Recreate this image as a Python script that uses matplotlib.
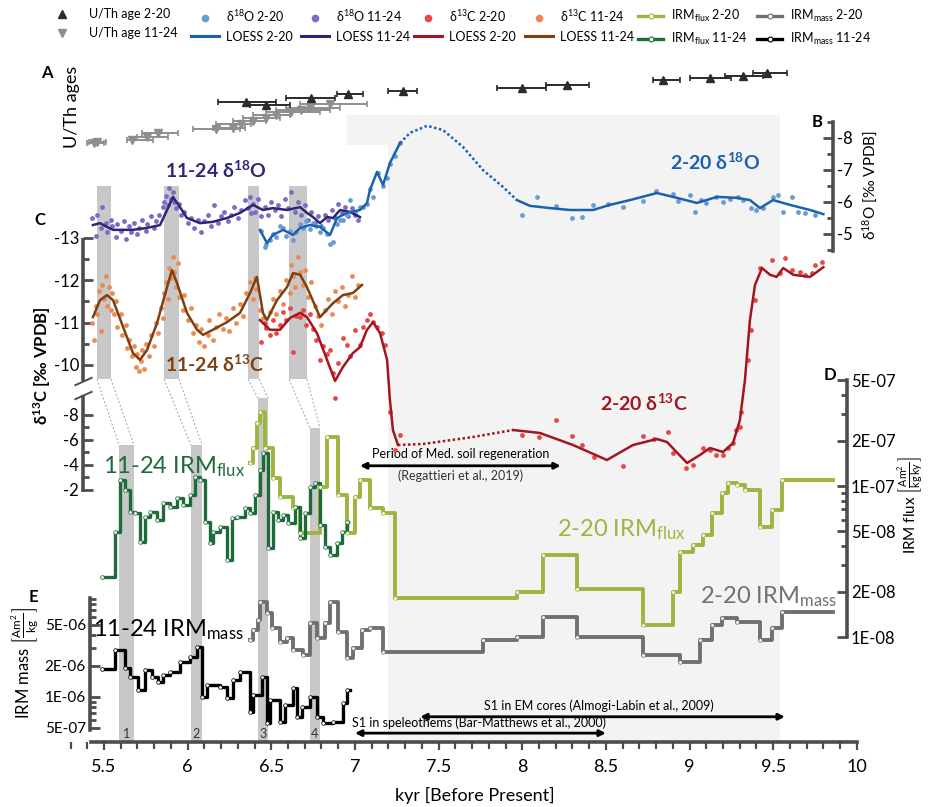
import numpy as np
import matplotlib
matplotlib.use("Agg")
import matplotlib.pyplot as plt
from matplotlib.lines import Line2D
from matplotlib.ticker import FixedLocator, FixedFormatter, MultipleLocator, NullFormatter, FuncFormatter

plt.rcParams["font.family"] = ["Lato", "DejaVu Sans"]
plt.rcParams["mathtext.default"] = "regular"

# ---------------- data (kyr BP) ----------------
# U/Th ages: age, 2-sigma range, stacking row
uth_220_age = [6.35, 6.47, 6.74, 6.96, 7.29, 8.00, 8.27, 8.84, 9.12, 9.32, 9.46]
uth_220_lo = [6.18, 6.37, 6.59, 6.89, 7.20, 7.85, 8.14, 8.78, 9.00, 9.21, 9.38]
uth_220_hi = [6.53, 6.61, 6.88, 7.05, 7.37, 8.14, 8.40, 8.94, 9.25, 9.44, 9.58]
uth_220_row = [4.8, 4.5, 5.2, 5.6, 5.9, 6.2, 6.5, 7.0, 7.2, 7.4, 7.7]

uth_1124_age = [5.44, 5.46, 5.67, 5.76, 5.82, 6.17, 6.27, 6.32, 6.39, 6.47, 6.53, 6.62, 6.68, 6.73, 6.85]
uth_1124_lo = [5.40, 5.41, 5.64, 5.70, 5.73, 6.03, 6.15, 6.17, 6.27, 6.33, 6.39, 6.47, 6.53, 6.59, 6.67]
uth_1124_hi = [5.50, 5.51, 5.79, 5.88, 5.94, 6.31, 6.34, 6.38, 6.47, 6.55, 6.61, 6.79, 6.85, 6.91, 7.07]
uth_1124_row = [0.7, 0.8, 1.0, 1.3, 1.7, 2.1, 2.2, 2.6, 2.9, 3.2, 3.5, 3.8, 4.0, 4.2, 4.6]

# d18O 11-24
o1124_x = [5.43, 5.45, 5.46, 5.48, 5.49, 5.51, 5.52, 5.54, 5.55, 5.57, 5.58, 5.60, 5.62, 5.63, 5.65,
           5.66, 5.68, 5.70, 5.71, 5.73, 5.75, 5.76, 5.78, 5.80, 5.81, 5.83, 5.85, 5.86, 5.87, 5.88,
           5.89, 5.90, 5.91, 5.92, 5.93, 5.95, 5.96, 5.98, 6.00, 6.02, 6.04, 6.06, 6.08, 6.10, 6.12,
           6.14, 6.16, 6.18, 6.20, 6.22, 6.24, 6.26, 6.28, 6.30, 6.32, 6.34, 6.36, 6.37, 6.38, 6.39,
           6.40, 6.42, 6.44, 6.46, 6.48, 6.50, 6.52, 6.54, 6.56, 6.58, 6.60, 6.62, 6.64, 6.66, 6.68,
           6.70, 6.72, 6.74, 6.76, 6.78, 6.80, 6.82, 6.84, 6.86, 6.88, 6.90, 6.92, 6.94, 6.96, 6.98,
           7.00, 7.02]
o1124_y = [-5.50, -4.95, -5.60, -5.20, -5.85, -5.35, -5.05, -5.45, -5.25, -4.90, -5.30, -5.10, -5.40, -4.85, -5.25,
           -5.05, -5.35, -5.00, -5.20, -5.45, -5.10, -5.30, -5.55, -5.20, -5.40, -5.60, -5.85, -6.00, -6.20, -5.90,
           -6.45, -6.10, -6.30, -6.00, -5.80, -5.95, -5.60, -5.70, -5.35, -5.50, -5.20, -5.45, -5.05, -5.40, -5.60,
           -5.25, -5.90, -5.35, -5.55, -5.70, -5.40, -5.60, -5.85, -5.50, -5.75, -6.05, -5.80, -6.15, -5.65, -5.95,
           -5.70, -6.10, -5.55, -5.85, -5.60, -6.00, -5.75, -5.90, -5.55, -6.10, -5.80, -6.30, -5.70, -6.00, -5.60,
           -5.90, -5.45, -5.70, -5.35, -5.55, -5.25, -5.60, -5.45, -5.75, -5.50, -5.95, -5.65, -5.85, -5.55, -5.80,
           -5.60, -5.45]
o1124_loess_x = [5.434, 5.476, 5.518, 5.554, 5.614, 5.673, 5.757, 5.835, 5.877, 5.912, 5.954, 5.996, 6.074,
                 6.151, 6.235, 6.313, 6.391, 6.450, 6.510, 6.594, 6.672, 6.713, 6.749, 6.791, 6.833, 6.869,
                 6.911, 6.970, 7.030]
o1124_loess_y = [-5.28, -5.34, -5.22, -5.13, -5.13, -5.13, -5.19, -5.28, -5.75, -6.16, -5.84, -5.50, -5.34,
                 -5.38, -5.50, -5.66, -5.91, -5.75, -5.81, -5.75, -5.84, -5.66, -5.53, -5.34, -5.53, -5.50,
                 -5.75, -5.69, -5.53]

# d18O 2-20
o220_x = [6.44, 6.46, 6.47, 6.49, 6.51, 6.53, 6.55, 6.57, 6.59, 6.61, 6.63, 6.65, 6.67, 6.69, 6.71,
          6.73, 6.75, 6.77, 6.79, 6.81, 6.83, 6.85, 6.87, 6.89, 6.91, 6.93, 6.95, 6.97, 7.00, 7.03,
          7.05, 7.07, 7.09, 7.11, 7.14, 7.17, 7.19, 7.21, 7.24, 7.27,
          8.00, 8.09, 8.20, 8.30, 8.36, 8.42, 8.51, 8.60, 8.72, 8.80, 8.90, 8.93, 9.00, 9.03, 9.07,
          9.10, 9.16, 9.20, 9.24, 9.29, 9.32, 9.37, 9.40, 9.44, 9.50, 9.53, 9.56, 9.61, 9.65, 9.69, 9.75]
o220_y = [-5.10, -4.60, -4.70, -4.80, -5.00, -4.90, -5.25, -5.20, -4.95, -5.10, -4.80, -5.05, -5.30, -5.20, -5.40,
          -5.15, -5.35, -5.25, -5.05, -5.20, -5.00, -4.70, -4.75, -5.30, -5.45, -5.45, -5.60, -6.05, -5.70, -5.85,
          -5.85, -5.95, -6.40, -6.15, -6.90, -6.50, -6.75, -7.20, -7.45, -7.85,
          -5.59, -6.16, -5.88, -5.50, -5.53, -5.91, -5.94, -5.84, -6.03, -6.34, -6.25, -6.03, -6.22, -5.69, -6.06,
          -5.97, -6.16, -6.00, -6.09, -6.16, -6.06, -5.81, -5.75, -5.81, -6.16, -6.22, -5.69, -6.16, -5.69, -5.66, -5.59]
o220_loess_x = [6.432, 6.474, 6.510, 6.570, 6.630, 6.672, 6.731, 6.791, 6.851, 6.893, 6.952, 7.030, 7.072,
                7.090, 7.132, 7.168, 7.209, 7.269, 7.329, 7.431, 7.526, 7.646, 7.765, 7.885, 7.968, 8.046,
                8.166, 8.285, 8.423, 8.524, 8.644, 8.805, 8.901, 9.044, 9.164, 9.283, 9.361, 9.421, 9.499,
                9.600, 9.720, 9.800]
o220_loess_y = [-5.13, -4.72, -4.97, -5.13, -4.97, -5.19, -5.28, -5.22, -4.97, -5.50, -5.66, -5.75, -5.97,
                -6.38, -6.94, -6.53, -7.22, -7.84, -8.16, -8.38, -8.25, -7.72, -7.00, -6.47, -6.06, -5.88,
                -5.81, -5.75, -5.75, -5.91, -6.06, -6.28, -6.16, -5.97, -6.16, -6.13, -6.06, -5.81, -6.06,
                -5.91, -5.75, -5.62]

# d13C 11-24
c1124_x = [5.43, 5.44, 5.45, 5.46, 5.47, 5.48, 5.49, 5.50, 5.51, 5.52, 5.53, 5.54, 5.55, 5.56, 5.57,
           5.58, 5.60, 5.61, 5.63, 5.64, 5.65, 5.67, 5.68, 5.69, 5.70, 5.71, 5.72, 5.73, 5.74, 5.75,
           5.77, 5.78, 5.80, 5.81, 5.82, 5.84, 5.85, 5.86, 5.87, 5.88, 5.89, 5.90, 5.91, 5.92, 5.93,
           5.94, 5.95, 5.97, 5.98, 6.00, 6.02, 6.03, 6.05, 6.07, 6.08, 6.10, 6.12, 6.13, 6.15, 6.17,
           6.19, 6.21, 6.23, 6.25, 6.27, 6.29, 6.31, 6.33, 6.35, 6.37, 6.39, 6.40, 6.41, 6.43, 6.45,
           6.47, 6.49, 6.51, 6.53, 6.55, 6.57, 6.59, 6.61, 6.62, 6.63, 6.64, 6.66, 6.67, 6.69, 6.70,
           6.72, 6.74, 6.76, 6.78, 6.80, 6.82, 6.84, 6.86, 6.88, 6.90, 6.92, 6.94, 6.96, 6.98, 7.00, 7.02]
c1124_y = [-11.00, -10.60, -11.40, -11.20, -11.75, -10.80, -11.90, -11.55, -12.10, -11.40, -11.85, -11.30, -11.70, -11.20, -11.50,
           -10.90, -11.20, -10.70, -10.95, -10.40, -10.60, -10.20, -10.45, -9.95, -10.25, -9.85, -10.10, -10.35, -9.90, -10.50,
           -10.20, -10.70, -10.45, -11.00, -10.75, -11.35, -11.10, -11.70, -11.95, -11.55, -12.30, -12.05, -12.55, -12.20, -11.85,
           -12.40, -11.60, -11.30, -11.65, -11.05, -11.35, -10.75, -10.95, -10.55, -10.85, -10.45, -10.70, -11.05, -10.60, -10.90,
           -11.20, -10.85, -11.10, -10.80, -11.35, -11.00, -11.45, -11.15, -11.70, -11.95, -11.55, -12.05, -11.80, -11.30, -11.10,
           -10.90, -11.25, -11.55, -11.20, -11.75, -11.45, -12.00, -11.70, -12.35, -12.10, -11.85, -12.55, -12.20, -11.90, -12.25,
           -11.60, -11.95, -11.40, -11.15, -10.95, -11.30, -11.55, -11.20, -11.75, -11.50, -11.85, -11.40, -11.65, -12.10, -11.60, -11.90]
c1124_loess_x = [5.434, 5.476, 5.518, 5.554, 5.614, 5.673, 5.715, 5.757, 5.817, 5.877, 5.906, 5.936, 5.996,
                 6.056, 6.092, 6.151, 6.235, 6.313, 6.373, 6.414, 6.450, 6.474, 6.534, 6.594, 6.630, 6.672,
                 6.713, 6.791, 6.869, 6.928, 6.988, 7.042]
c1124_loess_y = [-11.13, -11.53, -11.65, -11.53, -10.90, -10.28, -10.12, -10.35, -10.99, -11.84, -12.24, -11.94, -11.23,
                 -10.83, -10.71, -10.83, -11.01, -11.23, -11.70, -12.08, -11.23, -11.06, -11.53, -11.84, -12.17, -12.13,
                 -11.84, -11.13, -11.46, -11.65, -11.70, -11.89]

# d13C 2-20
c220_x = [6.44, 6.46, 6.47, 6.49, 6.51, 6.53, 6.55, 6.57, 6.59, 6.61, 6.63, 6.65, 6.67, 6.69, 6.71,
          6.73, 6.75, 6.77, 6.79, 6.81, 6.83, 6.85, 6.87, 6.88, 6.90, 6.93, 6.95, 6.97, 7.00, 7.03,
          7.05, 7.07, 7.09, 7.11, 7.13, 7.16, 7.18, 7.21, 7.24, 7.27,
          8.00, 8.10, 8.20, 8.30, 8.36, 8.43, 8.60, 8.72, 8.79, 8.87, 8.90, 8.98, 9.02, 9.08, 9.12,
          9.16, 9.20, 9.23, 9.26, 9.28, 9.30, 9.31, 9.35, 9.37, 9.39, 9.42, 9.49, 9.54, 9.57, 9.61,
          9.66, 9.69, 9.73, 9.75, 9.79]
c220_y = [-10.54, -11.00, -10.87, -10.70, -11.05, -10.75, -10.95, -11.25, -11.05, -11.35, -10.30, -11.15, -11.13, -11.30, -10.95,
          -11.20, -10.85, -10.60, -10.12, -10.45, -10.25, -10.35, -9.81, -9.36, -10.05, -10.64, -10.47, -10.20, -10.83, -10.47,
          -10.90, -11.06, -11.20, -11.01, -10.90, -10.75, -10.47, -8.24, -5.20, -6.40,
          -6.40, -6.24, -7.60, -6.32, -5.60, -4.64, -3.92, -6.32, -6.08, -6.64, -4.96, -3.76, -4.00, -5.36, -5.20,
          -4.80, -4.80, -5.36, -5.76, -6.80, -7.04, -8.24, -10.12, -10.83, -11.53, -12.29, -12.48, -12.17, -12.53, -12.24,
          -12.20, -12.13, -12.17, -12.36, -12.43]
c220_loess_x = [6.432, 6.492, 6.552, 6.612, 6.672, 6.713, 6.773, 6.833, 6.881, 6.928, 6.988, 7.030, 7.072,
                7.108, 7.150, 7.192, 7.209, 7.227, 7.257, 7.407, 7.706, 7.945, 8.106, 8.303, 8.506, 8.662,
                8.805, 8.865, 8.985, 9.062, 9.122, 9.200, 9.260, 9.301, 9.331, 9.361, 9.391, 9.433, 9.481,
                9.520, 9.560, 9.620, 9.720, 9.800]
c220_loess_y = [-11.06, -10.83, -10.83, -11.11, -11.23, -11.13, -10.75, -10.12, -9.62, -9.95, -10.28, -10.42, -10.83,
                -11.01, -10.75, -10.12, -9.20, -6.80, -5.60, -5.68, -6.24, -6.80, -6.56, -5.60, -4.40, -5.60,
                -6.08, -5.84, -4.16, -4.80, -5.36, -5.04, -5.76, -7.60, -9.64, -11.06, -11.89, -12.29, -12.13,
                -12.08, -12.29, -12.13, -12.08, -12.31]

# IRM flux (Am2 kg-1 ky-1), step start and value
flux_1124_x = [5.488, 5.566, 5.596, 5.626, 5.655, 5.685, 5.715, 5.745, 5.775, 5.817, 5.853, 5.894, 5.936, 5.972,
               6.014, 6.044, 6.074, 6.104, 6.134, 6.152, 6.193, 6.235, 6.265, 6.295, 6.343, 6.373, 6.403, 6.432,
               6.450, 6.480, 6.510, 6.540, 6.570, 6.600, 6.642, 6.672, 6.701, 6.731, 6.761, 6.791, 6.821, 6.851,
               6.893, 6.923, 6.952]
flux_1124_v = [2.49e-8, 4.95e-8, 1.10e-7, 9.4e-8, 6.73e-8, 6.62e-8, 4.26e-8, 6.24e-8, 6.73e-8, 5.96e-8, 7.71e-8, 7.26e-8,
               8.33e-8, 7.48e-8, 8.71e-8, 1.15e-7, 1.10e-7, 5.78e-8, 4.2e-8, 4.95e-8, 5.34e-8, 3.24e-8, 6.14e-8, 6.24e-8,
               7.15e-8, 6.62e-8, 8.71e-8, 1.28e-7, 1.66e-7, 3.88e-8, 6.73e-8, 5.96e-8, 6.43e-8, 5.69e-8, 7.26e-8, 4.53e-8,
               6.62e-8, 9.85e-8, 1.05e-7, 5.52e-8, 3.94e-8, 3.49e-8, 4.2e-8, 4.95e-8, 5.78e-8]
flux_1124_end = 6.958
flux_220_x = [6.373, 6.391, 6.415, 6.432, 6.462, 6.510, 6.552, 6.630, 6.672, 6.791, 6.833, 6.899, 6.952, 7.000,
              7.030, 7.090, 7.168, 7.239, 7.968, 8.124, 8.327, 8.722, 8.901, 8.943, 9.020, 9.080, 9.134, 9.194,
              9.229, 9.283, 9.331, 9.421, 9.493, 9.553]
flux_220_v = [1.42e-7, 1.79e-7, 2.61e-7, 3.09e-7, 1.79e-7, 1.13e-7, 8.45e-8, 7.15e-8, 4.89e-8, 9.85e-8, 2.11e-7,
              8.71e-8, 4.89e-8, 8.45e-8, 1.10e-7, 7.15e-8, 6.62e-8, 1.81e-8, 1.99e-8, 3.49e-8, 2.08e-8, 1.20e-8,
              1.99e-8, 3.66e-8, 4.06e-8, 4.73e-8, 6.62e-8, 8.99e-8, 1.05e-7, 1.02e-7, 9.4e-8, 5.34e-8, 6.93e-8, 1.10e-7]
flux_220_end = 9.857

# IRM mass (Am2 kg-1)
mass_1124_x = [5.488, 5.566, 5.626, 5.655, 5.703, 5.745, 5.787, 5.823, 5.853, 5.894, 5.954, 6.014, 6.056, 6.086,
               6.116, 6.193, 6.235, 6.271, 6.313, 6.373, 6.391, 6.445, 6.474, 6.492, 6.552, 6.582, 6.630, 6.654,
               6.683, 6.731, 6.773, 6.809, 6.869, 6.929, 6.952]
mass_1124_v = [1.87e-6, 2.86e-6, 1.91e-6, 1.56e-6, 1.17e-6, 1.83e-6, 1.56e-6, 1.40e-6, 1.64e-6, 1.75e-6, 2.19e-6,
               2.45e-6, 3.05e-6, 1.0e-6, 1.31e-6, 1.25e-6, 9.8e-7, 1.46e-6, 1.75e-6, 7.15e-7, 1.05e-6, 1.56e-6,
               5.6e-7, 9.35e-7, 5.71e-7, 8.36e-7, 1.22e-6, 6.39e-7, 8.0e-7, 1.0e-6, 6.39e-7, 5.6e-7, 5.71e-7,
               8.74e-7, 1.17e-6]
mass_1124_end = 6.970
mass_220_x = [6.373, 6.391, 6.420, 6.432, 6.474, 6.504, 6.552, 6.594, 6.630, 6.689, 6.731, 6.773, 6.821, 6.851,
              6.899, 6.952, 6.988, 7.042, 7.090, 7.168, 7.766, 7.970, 8.126, 8.329, 8.722, 8.943, 9.062, 9.134,
              9.194, 9.283, 9.421, 9.493, 9.553]
mass_220_v = [3.57e-6, 4.47e-6, 5.6e-6, 8.36e-6, 6.55e-6, 4.68e-6, 3.42e-6, 3.74e-6, 2.86e-6, 2.56e-6, 5.22e-6,
              3.74e-6, 5.22e-6, 8.36e-6, 4.28e-6, 2.39e-6, 2.99e-6, 4.47e-6, 4.68e-6, 2.73e-6, 3.57e-6, 3.83e-6,
              5.98e-6, 3.83e-6, 2.56e-6, 2.19e-6, 3.57e-6, 5.0e-6, 5.84e-6, 5.34e-6, 3.57e-6, 4.68e-6, 6.68e-6]
mass_220_end = 9.857

# events 1-4 (upper: 11-24 age model, lower: IRM age model)
ev_up_lo = [5.458, 5.859, 6.361, 6.606]
ev_up_hi = [5.542, 5.948, 6.427, 6.713]
ev_lo_lo = [5.590, 6.020, 6.420, 6.731]
ev_lo_hi = [5.679, 6.086, 6.480, 6.791]
ev_names = ["1", "2", "3", "4"]

# colours
C_O220, C_O220L = "#6C9BD2", "#1A62AE"
C_O1124, C_O1124L = "#7A6CC4", "#2B2775"
C_C220, C_C220L = "#E8474A", "#A3161F"
C_C1124, C_C1124L = "#EC8A52", "#7E4010"
C_F220, C_F1124 = "#9BB53E", "#1C6B39"
C_M220, C_M1124 = "#707070", "#000000"
C_U220, C_U1124 = "#2B2B2B", "#8E8E8E"
SP = "#4D4D4D"

# ---------------- figure ----------------
fig = plt.figure(figsize=(9.3, 8.07), dpi=100)
X0, X1 = 5.3, 10.0
LEFT, WID = 0.07585, 0.8455


def panel(bottom, height):
    a = fig.add_axes([LEFT, bottom, WID, height])
    a.set_xlim(X0, X1)
    a.patch.set_visible(False)
    for s in a.spines.values():
        s.set_visible(False)
    a.xaxis.set_visible(False)
    a.set_yticks([])
    return a


def yaxis_style(a, side, pos, bounds, major, labels, minor, size):
    sp = a.spines[side]
    sp.set_visible(True)
    sp.set_position(("data", pos))
    sp.set_bounds(*bounds)
    sp.set_color(SP)
    sp.set_linewidth(2.6)
    a.yaxis.set_ticks_position(side)
    a.yaxis.set_major_locator(FixedLocator(major))
    a.yaxis.set_major_formatter(FixedFormatter(labels))
    a.yaxis.set_minor_locator(FixedLocator(minor))
    a.yaxis.set_minor_formatter(NullFormatter())
    a.tick_params(axis="y", which="both", direction="in", color=SP, width=2, labelsize=size, pad=3)
    a.tick_params(axis="y", which="major", length=7)
    a.tick_params(axis="y", which="minor", length=4)


def steps(a, xs, vs, xend, color, lw):
    sx = list(xs) + [xend]
    sv = list(vs) + [vs[-1]]
    a.plot(sx, sv, drawstyle="steps-post", color=color, lw=lw, zorder=3)
    a.plot(xs, vs, "o", ms=2.6, mfc="white", mec=color, mew=0.5, zorder=4)


# base axes: x axis, shading, event bars
base = fig.add_axes([LEFT, 0.08055, WID, 0.8451])
base.set_xlim(X0, X1)
base.set_ylim(0, 1)
base.patch.set_visible(False)
for k in ["left", "right", "top"]:
    base.spines[k].set_visible(False)
base.set_yticks([])
base.spines["bottom"].set_bounds(5.42, 10.0)
base.spines["bottom"].set_color(SP)
base.spines["bottom"].set_linewidth(2.6)
base.set_xticks(np.arange(5.5, 10.01, 0.5))
base.xaxis.set_major_formatter(FuncFormatter(lambda v, p: "%g" % v))
base.xaxis.set_minor_locator(MultipleLocator(0.1))
base.tick_params(axis="x", which="both", color=SP, width=1.6, labelsize=13, direction="out")
base.tick_params(axis="x", which="major", length=6, pad=6)
base.tick_params(axis="x", which="minor", length=5)

base.axvspan(7.2, 9.54, ymin=0, ymax=0.919, color="#F3F3F3", lw=0, zorder=0)
base.axvspan(6.95, 7.2, ymin=0.875, ymax=0.919, color="#F3F3F3", lw=0, zorder=0)
up_bot, up_top = 0.532, 0.815
low_top = [0.4355, 0.4355, 0.5044, 0.4604]
for i in range(4):
    base.axvspan(ev_up_lo[i], ev_up_hi[i], ymin=up_bot, ymax=up_top, color="#C8C8C8", lw=0, zorder=1)
    base.axvspan(ev_lo_lo[i], ev_lo_hi[i], ymin=0, ymax=low_top[i], color="#C8C8C8", lw=0, zorder=1)
    base.plot([ev_up_lo[i], ev_lo_lo[i]], [up_bot, low_top[i]], color="#A0A0A0", lw=0.7, ls=(0, (2, 2)), zorder=1)
    base.plot([ev_up_hi[i], ev_lo_hi[i]], [up_bot, low_top[i]], color="#A0A0A0", lw=0.7, ls=(0, (2, 2)), zorder=1)
    base.text((ev_lo_lo[i] + ev_lo_hi[i]) / 2, 0.012, ev_names[i], ha="center", va="center", fontsize=9, color="#333333")

# arrows and period annotations
base.annotate("", xy=(8.23, 0.405), xytext=(7.03, 0.405),
              arrowprops=dict(arrowstyle="<|-|>", lw=2, color="black", mutation_scale=9, shrinkA=0, shrinkB=0))
base.text(7.63, 0.422, "Period of Med. soil regeneration", ha="center", va="center", fontsize=9)
base.text(7.63, 0.390, "(Regattieri et al., 2019)", ha="center", va="center", fontsize=9, color="#333333")
base.annotate("", xy=(9.57, 0.037), xytext=(7.39, 0.037),
              arrowprops=dict(arrowstyle="<|-|>", lw=2, color="black", mutation_scale=9, shrinkA=0, shrinkB=0))
base.text(8.46, 0.053, "S1 in EM cores (Almogi-Labin et al., 2009)", ha="center", va="center", fontsize=9)
base.annotate("", xy=(8.5, 0.013), xytext=(7.0, 0.013),
              arrowprops=dict(arrowstyle="<|-|>", lw=2, color="black", mutation_scale=9, shrinkA=0, shrinkB=0))
base.text(6.98, 0.028, "S1 in speleothems (Bar-Matthews et al., 2000)", ha="left", va="center", fontsize=9)

# panel A: U/Th ages
axA = panel(0.81413, 0.11152)
axA.set_ylim(0, 9)
axA.errorbar(uth_1124_age, uth_1124_row,
             xerr=[np.subtract(uth_1124_age, uth_1124_lo), np.subtract(uth_1124_hi, uth_1124_age)],
             fmt="v", color=C_U1124, ms=6, lw=1.4, capsize=2, capthick=1.2)
axA.errorbar(uth_220_age, uth_220_row,
             xerr=[np.subtract(uth_220_age, uth_220_lo), np.subtract(uth_220_hi, uth_220_age)],
             fmt="^", color=C_U220, ms=6, lw=1.4, capsize=2, capthick=1.2)

# panel E: IRM mass
axE = panel(0.08055, 0.18835)
axE.set_yscale("log")
axE.set_ylim(3.656e-7, 1.0934e-5)
yaxis_style(axE, "left", 5.416, (4.78e-7, 9.14e-6), [5e-6, 2e-6, 1e-6, 5e-7],
            ["5E-06", "2E-06", "1E-06", "5E-07"],
            [6e-7, 7e-7, 8e-7, 9e-7, 3e-6, 4e-6, 6e-6, 7e-6, 8e-6, 9e-6], 11)
steps(axE, mass_220_x, mass_220_v, mass_220_end, C_M220, 2.8)
steps(axE, mass_1124_x, mass_1124_v, mass_1124_end, C_M1124, 2.4)

# panel D: IRM flux
axD = panel(0.19455, 0.34696)
axD.set_yscale("log")
axD.set_ylim(8.203e-9, 5.864e-7)
yaxis_style(axD, "right", 9.94, (1e-8, 5e-7), [5e-7, 2e-7, 1e-7, 5e-8, 2e-8, 1e-8],
            ["5E-07", "2E-07", "1E-07", "5E-08", "2E-08", "1E-08"],
            [3e-8, 4e-8, 6e-8, 7e-8, 8e-8, 9e-8, 3e-7, 4e-7], 12)
steps(axD, flux_220_x, flux_220_v, flux_220_end, C_F220, 2.8)
steps(axD, flux_1124_x, flux_1124_v, flux_1124_end, C_F1124, 2.4)


# panel C: d13C with broken scale
def c_fwd(v):
    v = np.asarray(v, dtype=float)
    return np.where(v <= -9.6, (v + 13) * 42.3, (v + 8) * 12.5 + 177)


def c_inv(u):
    u = np.asarray(u, dtype=float)
    return np.where(u <= 150, u / 42.3 - 13, (u - 177) / 12.5 - 8)


axC = panel(0.36803, 0.40892)
axC.set_yscale("function", functions=(c_fwd, c_inv))
axC.set_ylim(-0.4, -14.371)
yaxis_style(axC, "left", 5.375, (-13, -1.8), [-13, -12, -11, -10, -8, -6, -4, -2],
            ["-13", "-12", "-11", "-10", "-8", "-6", "-4", "-2"],
            [-12.5, -11.5, -10.5, -7, -5, -3], 12)
axC.spines["left"].set_visible(False)
axC.plot([5.375, 5.375], [-13, -9.62], color=SP, lw=2.6, solid_capstyle="butt")
axC.plot([5.375, 5.375], [-9.58, -1.8], color=SP, lw=2.6, solid_capstyle="butt")
for yb in [-9.63, -9.57]:
    axC.plot([5.375], [yb], marker=[(-1, -0.45), (1, 0.45)], ms=13, color=SP, mew=1.4)
axC.scatter(c1124_x, c1124_y, s=12, color=C_C1124, lw=0, zorder=2)
axC.scatter(c220_x, c220_y, s=12, color=C_C220, lw=0, zorder=2)
axC.plot(c1124_loess_x, c1124_loess_y, color=C_C1124L, lw=1.8, zorder=3)
cx = np.array(c220_loess_x)
cy = np.array(c220_loess_y)
m1 = cx <= 7.26
m2 = (cx >= 7.25) & (cx <= 7.95)
m3 = cx >= 7.94
axC.plot(cx[m1], cy[m1], color=C_C220L, lw=1.8, zorder=3)
axC.plot(cx[m2], cy[m2], color=C_C220L, lw=1.8, ls=(0, (1, 1)), zorder=3)
axC.plot(cx[m3], cy[m3], color=C_C220L, lw=1.8, zorder=3)

# panel B: d18O
axB = panel(0.67782, 0.19827)
axB.set_ylim(-4.1875, -9.1875)
yaxis_style(axB, "right", 9.857, (-8.5, -4.47), [-8, -7, -6, -5], ["-8", "-7", "-6", "-5"],
            [-8.5, -7.5, -6.5, -5.5, -4.5], 12)
axB.scatter(o1124_x, o1124_y, s=12, color=C_O1124, lw=0, zorder=2)
axB.scatter(o220_x, o220_y, s=12, color=C_O220, lw=0, zorder=2)
axB.plot(o1124_loess_x, o1124_loess_y, color=C_O1124L, lw=1.8, zorder=3)
ox = np.array(o220_loess_x)
oy = np.array(o220_loess_y)
m1 = ox <= 7.27
m2 = (ox >= 7.26) & (ox <= 7.97)
m3 = ox >= 7.96
axB.plot(ox[m1], oy[m1], color=C_O220L, lw=1.8, zorder=3)
axB.plot(ox[m2], oy[m2], color=C_O220L, lw=1.8, ls=(0, (1, 1)), zorder=3)
axB.plot(ox[m3], oy[m3], color=C_O220L, lw=1.8, zorder=3)

# ---------------- texts ----------------
def ft(px, py, s, **kw):
    fig.text(px / 930, 1 - py / 807, s, **kw)


ft(47, 73, "A", fontsize=12, fontweight="bold", ha="center", va="center")
ft(72, 107, "U/Th ages", fontsize=13, rotation=90, ha="center", va="center")
ft(817, 122, "B", fontsize=12, fontweight="bold", ha="center", va="center")
ft(870, 185, "δ$^{18}$O [‰ VPDB]", fontsize=11, rotation=90, ha="center", va="center")
ft(40, 220, "C", fontsize=12, fontweight="bold", ha="center", va="center")
ft(42, 366, "δ$^{13}$C [‰ VPDB]", fontsize=12, fontweight="bold", rotation=90, ha="center", va="center")
ft(830, 375, "D", fontsize=12, fontweight="bold", ha="center", va="center")
ft(911, 505, r"IRM flux $\left[\frac{Am^2}{kg\,ky}\right]$", fontsize=11, rotation=90, ha="center", va="center")
ft(33, 597, "E", fontsize=12, fontweight="bold", ha="center", va="center")
ft(25, 663, r"IRM mass $\left[\frac{Am^2}{kg}\right]$", fontsize=12, rotation=90, ha="center", va="center")

ft(165, 170, "11-24 δ$^{18}$O", fontsize=14, fontweight="bold", color=C_O1124L, ha="left", va="center")
ft(670, 162, "2-20 δ$^{18}$O", fontsize=14, fontweight="bold", color=C_O220L, ha="left", va="center")
ft(165, 364, "11-24 δ$^{13}$C", fontsize=14, fontweight="bold", color=C_C1124L, ha="left", va="center")
ft(600, 403, "2-20 δ$^{13}$C", fontsize=14, fontweight="bold", color=C_C220L, ha="left", va="center")
ft(103, 467, "11-24 IRM$_{flux}$", fontsize=17, color=C_F1124, ha="left", va="center")
ft(557, 530, "2-20 IRM$_{flux}$", fontsize=17, color=C_F220, ha="left", va="center")
ft(700, 597, "2-20 IRM$_{mass}$", fontsize=17, color=C_M220, ha="left", va="center")
ft(93, 630, "11-24 IRM$_{mass}$", fontsize=17, color=C_M1124, ha="left", va="center")

ft(475, 795, "kyr [Before Present]", fontsize=13, ha="center", va="center")

# ---------------- legend ----------------
def dot(c):
    return Line2D([], [], ls="none", marker="o", ms=4.5, color=c)


def line(c):
    return Line2D([], [], color=c, lw=2.2)


def irm(c):
    return Line2D([], [], color=c, lw=2.4, marker="o", ms=3.5, mfc="white", mec=c, mew=0.8)


cols = [
    (54, [Line2D([], [], ls="none", marker="^", ms=6, color=C_U220),
          Line2D([], [], ls="none", marker="v", ms=6, color=C_U1124)],
     ["U/Th age 2-20", "U/Th age 11-24"], 1.2, 1.6),
    (191, [dot(C_O220), line(C_O220L)], ["δ$^{18}$O 2-20", "LOESS 2-20"], 2.2, 0.6),
    (301, [dot(C_O1124), line(C_O1124L)], ["δ$^{18}$O 11-24", "LOESS 11-24"], 2.2, 0.6),
    (414, [dot(C_C220), line(C_C220L)], ["δ$^{13}$C 2-20", "LOESS 2-20"], 2.2, 0.6),
    (525, [dot(C_C1124), line(C_C1124L)], ["δ$^{13}$C 11-24", "LOESS 11-24"], 2.2, 0.6),
    (638, [irm(C_F220), irm(C_F1124)], ["IRM$_{flux}$ 2-20", "IRM$_{flux}$ 11-24"], 2.0, 0.6),
    (757, [irm(C_M220), irm(C_M1124)], ["IRM$_{mass}$ 2-20", "IRM$_{mass}$ 11-24"], 2.0, 0.6),
]
for xp, hs, ls_, hl, tp in cols:
    fig.legend(hs, ls_, loc="upper left", bbox_to_anchor=(xp / 930, 1 - 8 / 807), frameon=False,
               borderpad=0, borderaxespad=0, handlelength=hl, handletextpad=tp, fontsize=9,
               labelspacing=0.55)

fig.savefig("out.png", dpi=100)
